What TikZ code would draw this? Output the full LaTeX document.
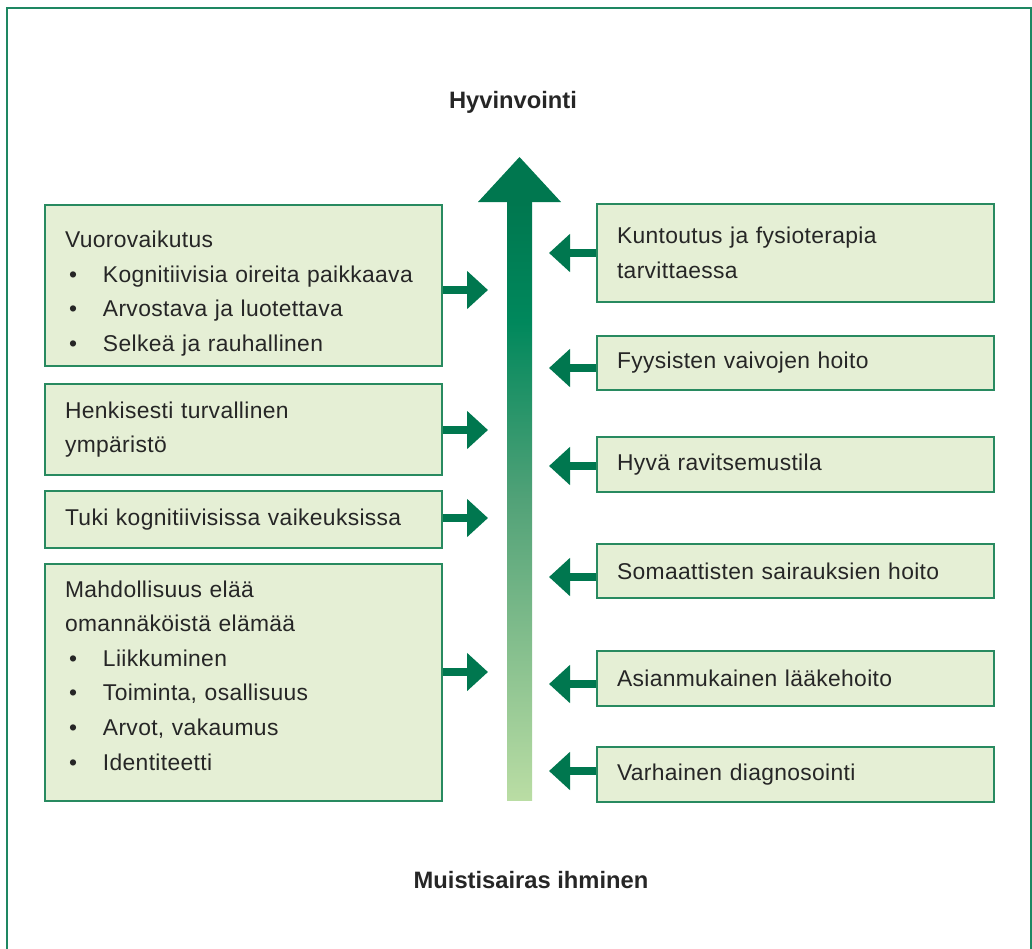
\documentclass[tikz,border=0pt]{standalone}
\usepackage{fontspec}
\setmainfont{Liberation Sans}
\newfontfamily\boxfont[LetterSpace=1.5]{Liberation Sans}
\usetikzlibrary{arrows.meta}

\definecolor{boxfill}{RGB}{229,239,213}
\definecolor{boxline}{RGB}{40,138,96}
\definecolor{arrowgreen}{RGB}{0,119,79}
\definecolor{trunkbright}{RGB}{0,136,92}
\definecolor{trunkmid}{RGB}{82,162,120}
\definecolor{trunklight}{RGB}{186,221,164}
\definecolor{framegreen}{RGB}{30,135,98}

\pgfdeclareverticalshading{trunk}{100bp}{color(0bp)=(trunklight); color(25bp)=(trunklight); color(50bp)=(trunkmid); color(65bp)=(trunkbright); color(75bp)=(arrowgreen); color(100bp)=(arrowgreen)}

\newcommand{\bul}{\hspace*{2.3pt}\makebox[19.3pt][l]{\textbullet}}

\begin{document}
\begin{tikzpicture}[x=0.02cm,y=-0.02cm,
    box/.style={draw=boxline,fill=boxfill,line width=1.1pt,minimum width=7.94cm,
        text width=7.14cm,inner xsep=0.4cm,align=left,text=black!85,
        font=\boxfont\fontsize{13}{19.7}\selectfont},
    push/.style={draw=arrowgreen,line width=0.16cm,-{Triangle[length=0.42cm,width=0.74cm]}},
    title/.style={font=\fontsize{13.5}{17}\selectfont\bfseries,text=black!85}]
    \useasboundingbox (0,0) rectangle (1032,948);
    \clip (0,0) rectangle (1032,948);
    \draw[framegreen,line width=0.04cm] (7,970) -- (7,8) -- (1031,8) -- (1031,970);

    \node[title] (top) at (513,102) {Hyvinvointi};
    \node[title] (bottom) at (531,880) {Muistisairas ihminen};

    % big arrow
    \shade[shading=trunk] (507,202) rectangle (532,800);
    \fill[arrowgreen] (478,202) -- (519.5,157) -- (561,202) -- cycle;

    \node[box,minimum height=3.22cm] (v1) at (243.5,285.5) {\rule{0pt}{0.65cm}Vuorovaikutus\\
        \bul Kognitiivisia oireita paikkaava\\
        \bul Arvostava ja luotettava\\
        \bul Selkeä ja rauhallinen};
    \node[box,minimum height=1.82cm] (v2) at (243.5,429.5) {Henkisesti turvallinen\\ympäristö};
    \node[box,minimum height=1.14cm] (v3) at (243.5,519.5) {Tuki kognitiivisissa vaikeuksissa};
    \node[box,minimum height=4.74cm] (v4) at (243.5,682.5) {Mahdollisuus elää\\omannäköistä elämää\\
        \bul Liikkuminen\\
        \bul Toiminta, osallisuus\\
        \bul Arvot, vakaumus\\
        \bul Identiteetti\par\vspace*{0.28cm}};

    \node[box,minimum height=1.96cm] (h1) at (795.5,253) {Kuntoutus ja fysioterapia\\tarvittaessa};
    \node[box,minimum height=1.08cm] (h2) at (795.5,363) {Fyysisten vaivojen hoito};
    \node[box,minimum height=1.10cm] (h3) at (795.5,464.5) {Hyvä ravitsemustila};
    \node[box,minimum height=1.08cm] (h4) at (795.5,571) {Somaattisten sairauksien hoito};
    \node[box,minimum height=1.10cm] (h5) at (795.5,678.5) {Asianmukainen lääkehoito};
    \node[box,minimum height=1.10cm] (h6) at (795.5,774.5) {Varhainen diagnosointi};

    \coordinate (t1) at (488,290);
    \coordinate (t2) at (488,430);
    \coordinate (t3) at (488,518);
    \coordinate (t4) at (488,672);
    \coordinate (s1) at (549,253);
    \coordinate (s2) at (549,368);
    \coordinate (s3) at (549,466);
    \coordinate (s4) at (549,577);
    \coordinate (s5) at (549,684);
    \coordinate (s6) at (549,771);

    \draw[push] (v1.east |- t1) -- (t1);
    \draw[push] (v2.east |- t2) -- (t2);
    \draw[push] (v3.east |- t3) -- (t3);
    \draw[push] (v4.east |- t4) -- (t4);
    \draw[push] (h1.west |- s1) -- (s1);
    \draw[push] (h2.west |- s2) -- (s2);
    \draw[push] (h3.west |- s3) -- (s3);
    \draw[push] (h4.west |- s4) -- (s4);
    \draw[push] (h5.west |- s5) -- (s5);
    \draw[push] (h6.west |- s6) -- (s6);
\end{tikzpicture}
\end{document}
